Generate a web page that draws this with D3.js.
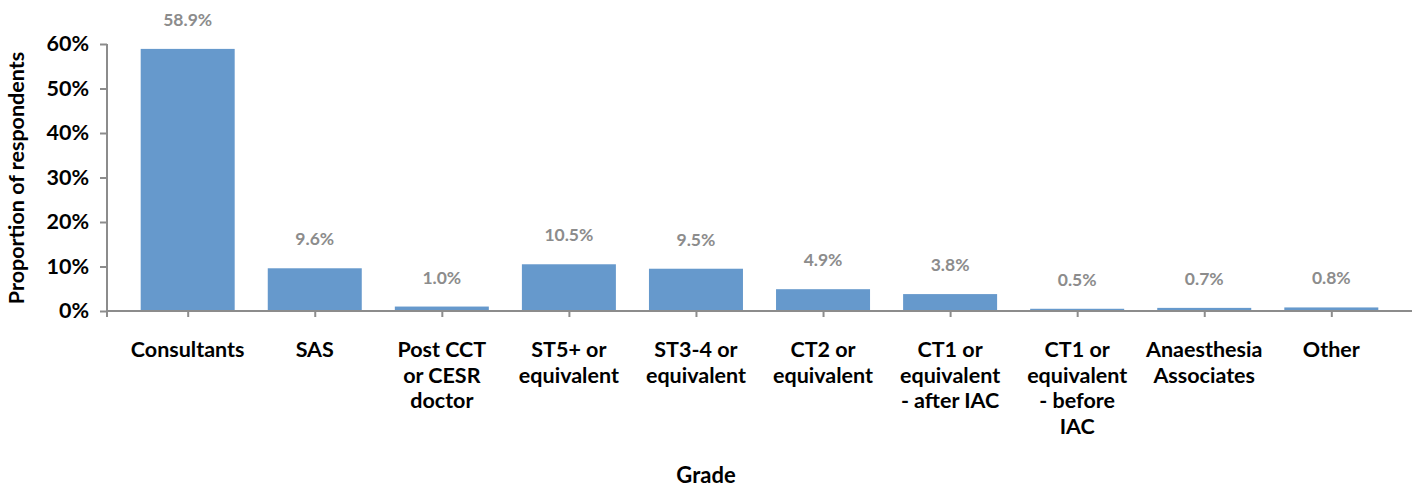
<!DOCTYPE html>
<html>
<head>
<meta charset="utf-8">
<script src="https://cdn.jsdelivr.net/npm/d3@7"></script>
<style>
  html, body { margin: 0; padding: 0; background: #fff; }
  svg { display: block; font-family: Lato, "Open Sans", sans-serif; }
</style>
</head>
<body>
<svg id="chart" width="1417" height="488"></svg>
<script>
const categories = [
  "Consultants",
  "SAS",
  "Post CCT\nor CESR\ndoctor",
  "ST5+ or\nequivalent",
  "ST3-4 or\nequivalent",
  "CT2 or\nequivalent",
  "CT1 or\nequivalent\n- after IAC",
  "CT1 or\nequivalent\n- before\nIAC",
  "Anaesthesia\nAssociates",
  "Other"
];
const values = [58.9, 9.6, 1.0, 10.5, 9.5, 4.9, 3.8, 0.5, 0.7, 0.8];
const yTicks = [0, 10, 20, 30, 40, 50, 60];
const yTitle = "Proportion of respondents";
const xTitle = "Grade";

const svg = d3.select("#chart");
const x0 = 107, x1 = 1412, yBase = 311, yTop = 44;

const x = d3.scalePoint().domain(categories).range([x0, x1]).padding(0.635);
const y = d3.scaleLinear().domain([0, 60]).range([yBase, yTop]);
const barW = 94;
const axisColor = "#8c8c8c";

// bars
svg.append("g").selectAll("rect").data(values).join("rect")
  .attr("x", (d, i) => x(categories[i]) - barW / 2)
  .attr("y", d => y(d))
  .attr("width", barW)
  .attr("height", d => yBase - y(d))
  .attr("fill", "#6699cc");

// value labels
svg.append("g").selectAll("text").data(values).join("text")
  .attr("x", (d, i) => x(categories[i]))
  .attr("y", d => y(d) - 23)
  .attr("text-anchor", "middle")
  .attr("font-size", 17.5)
  .attr("font-weight", "bold")
  .attr("fill", "#8c8c8c")
  .text(d => d.toFixed(1) + "%");

// y axis
const yAxis = d3.axisLeft(y).tickValues(yTicks).tickFormat(d => d + "%").tickSize(7).tickPadding(11);
const gy = svg.append("g").attr("transform", `translate(${x0},0)`).call(yAxis);
gy.select(".domain").remove();
gy.append("line").attr("x1", 0).attr("x2", 0).attr("y1", yTop).attr("y2", yBase + 6)
  .attr("stroke", axisColor).attr("stroke-width", 2);
gy.selectAll(".tick line").attr("stroke", axisColor).attr("stroke-width", 2);
gy.selectAll(".tick text").attr("font-size", 21.5).attr("font-weight", "bold")
  .attr("fill", "#000").attr("font-family", "Lato, sans-serif");

// x axis
const xAxis = d3.axisBottom(x).tickSize(6).tickFormat("");
const gx = svg.append("g").attr("transform", `translate(0,${yBase})`).call(xAxis);
gx.select(".domain").remove();
gx.append("line").attr("x1", x0).attr("x2", x1).attr("y1", 0).attr("y2", 0)
  .attr("stroke", axisColor).attr("stroke-width", 2);
gx.selectAll(".tick line").attr("stroke", axisColor).attr("stroke-width", 2);

// category labels
const lab = svg.append("g");
categories.forEach(c => {
  const lines = c.split("\n");
  const t = lab.append("text")
    .attr("x", x(c))
    .attr("y", 357)
    .attr("text-anchor", "middle")
    .attr("font-size", 21.5)
    .attr("font-weight", "bold")
    .attr("fill", "#000");
  lines.forEach((l, i) => {
    t.append("tspan").attr("x", x(c)).attr("dy", i === 0 ? 0 : 25.5).text(l);
  });
});

// axis titles
svg.append("text")
  .attr("transform", "translate(24,178) rotate(-90)")
  .attr("text-anchor", "middle")
  .attr("font-size", 21.5)
  .attr("font-weight", "bold")
  .attr("fill", "#000")
  .text(yTitle);

svg.append("text")
  .attr("x", 706)
  .attr("y", 483)
  .attr("text-anchor", "middle")
  .attr("font-size", 22)
  .attr("font-weight", "bold")
  .attr("fill", "#000")
  .text(xTitle);
</script>
</body>
</html>
